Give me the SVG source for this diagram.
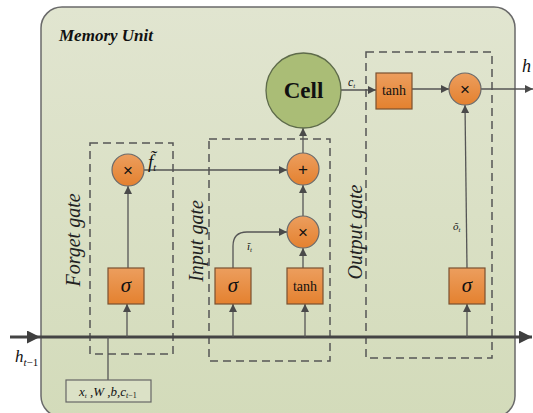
<svg xmlns="http://www.w3.org/2000/svg" width="533" height="413" viewBox="0 0 533 413">
<defs>
<linearGradient id="bg" x1="0" y1="0" x2="0" y2="1">
<stop offset="0" stop-color="#e1e5d0"/>
<stop offset="1" stop-color="#d3dbba"/>
</linearGradient>
<linearGradient id="og" x1="0" y1="0" x2="0" y2="1">
<stop offset="0" stop-color="#ec9e5e"/>
<stop offset="1" stop-color="#e4812f"/>
</linearGradient>
<marker id="a" viewBox="0 0 10 10" refX="10" refY="5" markerWidth="8" markerHeight="8" markerUnits="userSpaceOnUse" orient="auto">
<path d="M0,0 L10,5 L0,10 z" fill="#4a4a4a"/>
</marker>
<marker id="ab" viewBox="0 0 10 10" refX="10" refY="5" markerWidth="13" markerHeight="13" markerUnits="userSpaceOnUse" orient="auto">
<path d="M0,0 L10,5 L0,10 z" fill="#3f3f3f"/>
</marker>
<style>
.ln{fill:none;stroke:#555;stroke-width:1.3}
.main{fill:none;stroke:#444;stroke-width:3}
.dash{fill:none;stroke:#555;stroke-width:1.5;stroke-dasharray:8 5}
.box{fill:url(#og);stroke:#7a5030;stroke-width:1.2}
.op{fill:url(#og);stroke:#6a6a6a;stroke-width:1.2}
.serif{font-family:"Liberation Serif","Times New Roman",serif;fill:#111}
.it{font-style:italic}
.up{font-style:normal}
.sig{font-family:"Liberation Serif",serif;font-style:italic;font-size:21px;text-anchor:middle;fill:#111}
.sym{font-family:"Liberation Sans",Arial,sans-serif;font-size:17px;text-anchor:middle;fill:#111}
.gl{font-family:"Liberation Serif",serif;font-style:italic;font-size:20px;text-anchor:middle;fill:#222}
</style>
</defs>

<g id="memory-unit">
<rect x="41" y="7" width="474" height="410" rx="21" fill="url(#bg)" stroke="#6a6a6a" stroke-width="1.5"/>
<text class="serif" x="59" y="41" font-size="17" font-weight="bold" font-style="italic">Memory Unit</text>
</g>

<g id="gates">
<rect class="dash" x="90" y="143" width="83" height="211"/>
<rect class="dash" x="209" y="139" width="121" height="222"/>
<rect class="dash" x="366" y="52" width="126" height="306"/>
<text class="gl" transform="translate(80,240) rotate(-90)">Forget gate</text>
<text class="gl" transform="translate(203,241) rotate(-90)">Input gate</text>
<text class="gl" transform="translate(362,232) rotate(-90)">Output gate</text>
</g>

<g id="connectors">
<line class="main" x1="10" y1="337" x2="40" y2="337" marker-end="url(#ab)"/>
<line class="main" x1="40" y1="337" x2="532" y2="337" marker-end="url(#ab)"/>
<line class="ln" x1="108" y1="337" x2="108" y2="380"/>
<line class="ln" x1="127" y1="337" x2="127" y2="304" marker-end="url(#a)"/>
<line class="ln" x1="128" y1="268" x2="128" y2="186" marker-end="url(#a)"/>
<line class="ln" x1="144" y1="170" x2="287" y2="170" marker-end="url(#a)"/>
<line class="ln" x1="233" y1="337" x2="233" y2="304" marker-end="url(#a)"/>
<path class="ln" d="M233,268 V246 Q233,232 247,232 H287" marker-end="url(#a)"/>
<line class="ln" x1="305" y1="337" x2="305" y2="304" marker-end="url(#a)"/>
<line class="ln" x1="303" y1="268" x2="303" y2="248" marker-end="url(#a)"/>
<line class="ln" x1="303" y1="216" x2="303" y2="185" marker-end="url(#a)"/>
<line class="ln" x1="303" y1="153" x2="303" y2="128" marker-end="url(#a)"/>
<line class="ln" x1="341" y1="90" x2="376" y2="90" marker-end="url(#a)"/>
<line class="ln" x1="412" y1="89" x2="449" y2="89" marker-end="url(#a)"/>
<line class="ln" x1="481" y1="89" x2="533" y2="89" marker-end="url(#a)"/>
<line class="ln" x1="467" y1="337" x2="467" y2="304" marker-end="url(#a)"/>
<line class="ln" x1="467" y1="268" x2="465" y2="105" marker-end="url(#a)"/>
</g>

<g id="labels">
<text class="serif it" x="15" y="362" font-size="17">h<tspan font-size="11" dy="4">t</tspan><tspan class="up" font-size="11">−1</tspan></text>
<text class="serif it" x="148" y="168" font-size="19">f̃<tspan font-size="10" dy="3">t</tspan></text>
<text class="serif it" x="247" y="250" font-size="11">ĩ<tspan font-size="7" dy="2">t</tspan></text>
<text class="serif it" x="453" y="230" font-size="11">õ<tspan font-size="7" dy="2">t</tspan></text>
<text class="serif it" x="348" y="86" font-size="12">c<tspan font-size="7" dy="2">t</tspan></text>
<text class="serif it" x="522" y="72" font-size="18">h</text>
</g>

<g id="forget-mult">
<circle class="op" cx="128" cy="170" r="16"/>
<text class="sym" x="128" y="176">×</text>
</g>
<g id="forget-sigma">
<rect class="box" x="108" y="268" width="36" height="36"/>
<text class="sig" x="126" y="292">σ</text>
</g>
<g id="input-sigma">
<rect class="box" x="215" y="268" width="36" height="36"/>
<text class="sig" x="233" y="292">σ</text>
</g>
<g id="input-tanh">
<rect class="box" x="287" y="268" width="36" height="36"/>
<text class="serif" x="305" y="291" font-size="14" text-anchor="middle">tanh</text>
</g>
<g id="input-mult">
<circle class="op" cx="303" cy="232" r="16"/>
<text class="sym" x="303" y="238">×</text>
</g>
<g id="add">
<circle class="op" cx="303" cy="169" r="16"/>
<text class="sym" x="303" y="175">+</text>
</g>
<g id="cell">
<circle cx="303.5" cy="90.5" r="37.5" fill="#aabd76" stroke="#5e6b4a" stroke-width="1.3"/>
<text class="serif" x="303.5" y="98" font-size="23" font-weight="bold" text-anchor="middle">Cell</text>
</g>
<g id="output-tanh">
<rect class="box" x="376" y="73" width="36" height="36"/>
<text class="serif" x="394" y="95" font-size="14" text-anchor="middle">tanh</text>
</g>
<g id="output-mult">
<circle class="op" cx="465" cy="89" r="16"/>
<text class="sym" x="465" y="95">×</text>
</g>
<g id="output-sigma">
<rect class="box" x="449" y="268" width="36" height="36"/>
<text class="sig" x="467" y="292">σ</text>
</g>
<g id="inputs-box">
<rect x="66" y="380" width="85" height="22" fill="#dbe1c6" stroke="#666" stroke-width="1.2"/>
<text class="serif it" x="79" y="396" font-size="13">x<tspan font-size="7" dy="2">t</tspan><tspan dy="-2"> ,W ,b,c</tspan><tspan font-size="8" dy="2">t</tspan><tspan class="up" font-size="8">−1</tspan></text>
</g>
</svg>
